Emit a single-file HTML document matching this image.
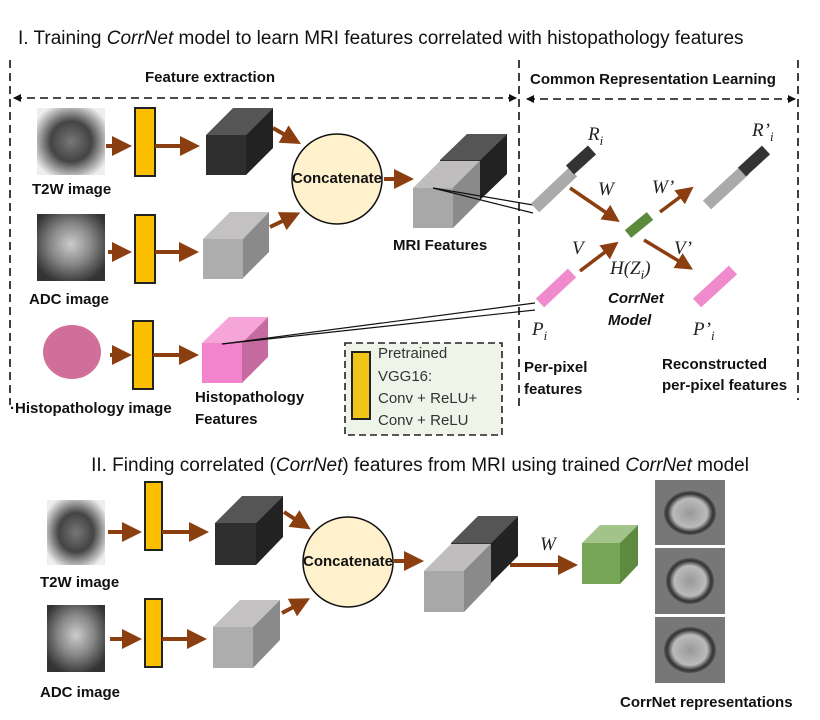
<!DOCTYPE html>
<html><head><meta charset="utf-8"><style>
body{margin:0;background:#fff}
svg{display:block}
text{font-family:"Liberation Sans",sans-serif}
.b{font-weight:bold;font-size:15px;fill:#111}
.m{font-family:"Liberation Serif",serif;font-style:italic;font-size:19px;fill:#222}
</style></head><body>
<svg width="820" height="720" viewBox="0 0 820 720" xmlns="http://www.w3.org/2000/svg">
<defs>
<marker id="ar" markerWidth="5" markerHeight="5" refX="3" refY="2.5" orient="auto" markerUnits="strokeWidth"><path d="M0,0 L5,2.5 L0,5 z" fill="#8b3e0f"/></marker>
<marker id="da" markerWidth="8" markerHeight="8" refX="7" refY="4" orient="auto" markerUnits="userSpaceOnUse"><path d="M0,0 L8,4 L0,8 z" fill="#111"/></marker>
<marker id="ds" markerWidth="8" markerHeight="8" refX="1" refY="4" orient="auto" markerUnits="userSpaceOnUse"><path d="M8,0 L0,4 L8,8 z" fill="#111"/></marker>
<radialGradient id="mri" cx="50%" cy="50%" r="60%"><stop offset="0" stop-color="#777"/><stop offset="0.5" stop-color="#444"/><stop offset="0.8" stop-color="#aaa"/><stop offset="1" stop-color="#eee"/></radialGradient>
<radialGradient id="adc" cx="50%" cy="45%" r="60%"><stop offset="0" stop-color="#ccc"/><stop offset="0.5" stop-color="#888"/><stop offset="1" stop-color="#333"/></radialGradient>
<radialGradient id="rep" cx="50%" cy="50%" r="55%"><stop offset="0" stop-color="#999"/><stop offset="0.6" stop-color="#bbb"/><stop offset="0.8" stop-color="#333"/><stop offset="1" stop-color="#777"/></radialGradient>
</defs>

<text x="18" y="44" font-size="19" fill="#111">I. Training <tspan font-style="italic">CorrNet</tspan> model to learn MRI features correlated with histopathology features</text>
<text x="145" y="82" class="b">Feature extraction</text>
<text x="530" y="84" class="b" font-size="14">Common Representation Learning</text>

<g stroke="#111" stroke-width="1.6" stroke-dasharray="8,5" fill="none">
<line x1="14" y1="98" x2="516" y2="98" marker-end="url(#da)" marker-start="url(#ds)"/>
<line x1="10" y1="60" x2="10" y2="405"/>
<line x1="519" y1="60" x2="519" y2="410"/>
<line x1="527" y1="99" x2="795" y2="99" marker-end="url(#da)" marker-start="url(#ds)"/>
<line x1="798" y1="60" x2="798" y2="400"/>
</g>

<rect x="37" y="108" width="68" height="67" fill="url(#mri)"/>
<rect x="37" y="214" width="68" height="67" fill="url(#adc)"/>
<ellipse cx="72" cy="352" rx="29" ry="27" fill="#d0709a"/>
<text x="32" y="194" class="b">T2W image</text>
<text x="29" y="304" class="b">ADC image</text>
<text x="10" y="413" class="b">·Histopathology image</text>

<g fill="#fbbe00" stroke="#222" stroke-width="2">
<rect x="135" y="108" width="20" height="68"/>
<rect x="135" y="215" width="20" height="68"/>
<rect x="133" y="321" width="20" height="68"/>
</g>

<g stroke="#8b3e0f" stroke-width="4" marker-end="url(#ar)" fill="none">
<line x1="106" y1="146" x2="124" y2="146"/>
<line x1="155" y1="146" x2="192" y2="146"/>
<line x1="108" y1="252" x2="124" y2="252"/>
<line x1="155" y1="252" x2="191" y2="252"/>
<line x1="110" y1="355" x2="124" y2="355"/>
<line x1="153" y1="355" x2="191" y2="355"/>
<line x1="273" y1="128" x2="294" y2="140"/>
<line x1="270" y1="227" x2="293" y2="216"/>
<line x1="384" y1="179" x2="406" y2="179"/>
</g>

<polygon points="206,135 233,108 273,108 246,135" fill="#555"/>
<polygon points="246,135 273,108 273,148 246,175" fill="#222"/>
<rect x="206" y="135" width="40" height="40" fill="#2e2e2e"/>
<polygon points="203,239 230,212 269,212 243,239" fill="#c3c1c1"/>
<polygon points="243,239 269,212 269,252 243,278" fill="#8a8a8a"/>
<rect x="203" y="239" width="40" height="40" fill="#aeadad"/>
<polygon points="202,343 229,317 268,317 242,343" fill="#f5a5d8"/>
<polygon points="242,343 268,317 268,357 242,383" fill="#c66aa2"/>
<rect x="202" y="343" width="40" height="40" fill="#f284cc"/>
<text x="195" y="402" class="b">Histopathology</text>
<text x="195" y="424" class="b">Features</text>

<circle cx="337" cy="179" r="45" fill="#fff1cc" stroke="#111" stroke-width="1.5"/>
<text x="337" y="183" class="b" font-size="12" text-anchor="middle">Concatenate</text>

<polygon points="440,160 467,134 507,134 480,160" fill="#555"/>
<polygon points="480,160 507,134 507,174 480,200" fill="#222"/>
<rect x="440" y="160" width="40" height="40" fill="#333"/>
<polygon points="413,188 440,161 480,161 453,188" fill="#bfbdbd"/>
<polygon points="453,188 480,161 480,201 453,228" fill="#8a8a8a"/>
<rect x="413" y="188" width="40" height="40" fill="#a9a8a8"/>
<text x="393" y="250" class="b">MRI Features</text>

<g stroke="#111" stroke-width="1.2" fill="none">
<line x1="433" y1="188" x2="533" y2="205"/>
<line x1="433" y1="188" x2="533" y2="213"/>
<line x1="222" y1="344" x2="535" y2="303"/>
<line x1="222" y1="344" x2="535" y2="310"/>
</g>

<rect x="345" y="343" width="157" height="92" fill="#eef5e8" stroke="#222" stroke-width="1.6" stroke-dasharray="7,4"/>
<rect x="352" y="352" width="18" height="67" fill="#f0c419" stroke="#222" stroke-width="2"/>
<g font-size="15" fill="#333"><text x="378" y="358">Pretrained</text><text x="378" y="381">VGG16:</text><text x="378" y="403">Conv + ReLU+</text><text x="378" y="425">Conv + ReLU</text></g>

<g>
<line x1="535" y1="208" x2="573" y2="172" stroke="#aaa" stroke-width="12"/>
<line x1="570" y1="170" x2="592" y2="150" stroke="#333" stroke-width="12"/>
<line x1="707" y1="205" x2="745" y2="170" stroke="#aaa" stroke-width="12"/>
<line x1="742" y1="172" x2="766" y2="150" stroke="#333" stroke-width="12"/>
<line x1="540" y1="303" x2="572" y2="273" stroke="#ef8acc" stroke-width="12"/>
<line x1="697" y1="303" x2="733" y2="270" stroke="#ef8acc" stroke-width="12"/>
<line x1="628" y1="234" x2="650" y2="216" stroke="#5b8a3a" stroke-width="10"/>
</g>
<g stroke="#8b3e0f" stroke-width="3.5" marker-end="url(#ar)" fill="none">
<line x1="570" y1="188" x2="614" y2="218"/>
<line x1="580" y1="271" x2="613" y2="246"/>
<line x1="660" y1="212" x2="688" y2="191"/>
<line x1="644" y1="240" x2="687" y2="266"/>
</g>
<text x="588" y="140" class="m">R<tspan font-size="13" dy="5">i</tspan></text>
<text x="598" y="195" class="m">W</text>
<text x="652" y="193" class="m">W’</text>
<text x="752" y="136" class="m">R’<tspan font-size="13" dy="5">i</tspan></text>
<text x="572" y="254" class="m">V</text>
<text x="674" y="254" class="m">V’</text>
<text x="610" y="274" class="m">H(Z<tspan font-size="13" dy="5">i</tspan><tspan dy="-5">)</tspan></text>
<text x="608" y="303" class="b" font-size="13" font-style="italic">CorrNet</text>
<text x="608" y="325" class="b" font-size="13" font-style="italic">Model</text>
<text x="532" y="335" class="m">P<tspan font-size="13" dy="5">i</tspan></text>
<text x="693" y="335" class="m">P’<tspan font-size="13" dy="5">i</tspan></text>
<text x="524" y="372" class="b" font-size="14">Per-pixel</text>
<text x="524" y="394" class="b" font-size="14">features</text>
<text x="662" y="369" class="b" font-size="14">Reconstructed</text>
<text x="662" y="390" class="b" font-size="14">per-pixel features</text>

<text x="420" y="471" font-size="19" fill="#111" text-anchor="middle">II. Finding correlated (<tspan font-style="italic">CorrNet</tspan>) features from MRI using trained <tspan font-style="italic">CorrNet</tspan> model</text>
<rect x="47" y="500" width="58" height="65" fill="url(#mri)"/>
<rect x="47" y="605" width="58" height="67" fill="url(#adc)"/>
<text x="40" y="587" class="b">T2W image</text>
<text x="40" y="697" class="b">ADC image</text>
<g fill="#fbbe00" stroke="#222" stroke-width="2">
<rect x="145" y="482" width="17" height="68"/>
<rect x="145" y="599" width="17" height="68"/>
</g>
<g stroke="#8b3e0f" stroke-width="4" marker-end="url(#ar)" fill="none">
<line x1="108" y1="532" x2="134" y2="532"/>
<line x1="162" y1="532" x2="201" y2="532"/>
<line x1="110" y1="639" x2="134" y2="639"/>
<line x1="162" y1="639" x2="199" y2="639"/>
<line x1="284" y1="512" x2="304" y2="525"/>
<line x1="282" y1="613" x2="303" y2="602"/>
<line x1="394" y1="561" x2="416" y2="561"/>
<line x1="510" y1="565" x2="570" y2="565"/>
</g>
<polygon points="215,523 242,496 283,496 256,523" fill="#555"/>
<polygon points="256,523 283,496 283,537 256,565" fill="#222"/>
<rect x="215" y="523" width="41" height="42" fill="#2e2e2e"/>
<polygon points="213,627 240,600 280,600 253,627" fill="#c3c1c1"/>
<polygon points="253,627 280,600 280,640 253,668" fill="#8a8a8a"/>
<rect x="213" y="627" width="40" height="41" fill="#aeadad"/>
<circle cx="348" cy="562" r="45" fill="#fff1cc" stroke="#111" stroke-width="1.5"/>
<text x="348" y="566" class="b" font-size="12" text-anchor="middle">Concatenate</text>
<polygon points="451,543 478,516 518,516 491,543" fill="#555"/>
<polygon points="491,543 518,516 518,556 491,583" fill="#222"/>
<rect x="451" y="543" width="40" height="40" fill="#333"/>
<polygon points="424,571 451,544 491,544 464,571" fill="#bfbdbd"/>
<polygon points="464,571 491,544 491,584 464,612" fill="#8a8a8a"/>
<rect x="424" y="571" width="40" height="41" fill="#a9a8a8"/>
<text x="540" y="550" class="m">W</text>
<polygon points="582,543 600,525 638,525 620,543" fill="#a2c48a"/>
<polygon points="620,543 638,525 638,565 620,584" fill="#5e8a40"/>
<rect x="582" y="543" width="38" height="41" fill="#76a556"/>
<rect x="655" y="480" width="70" height="65" fill="#777"/>
<ellipse cx="690" cy="513" rx="26" ry="22" fill="url(#rep)"/>
<rect x="655" y="548" width="70" height="66" fill="#777"/>
<ellipse cx="690" cy="581" rx="24" ry="23" fill="url(#rep)"/>
<rect x="655" y="617" width="70" height="66" fill="#777"/>
<ellipse cx="690" cy="650" rx="26" ry="23" fill="url(#rep)"/>
<text x="620" y="707" class="b" font-size="14">CorrNet representations</text>
</svg>
</body></html>
